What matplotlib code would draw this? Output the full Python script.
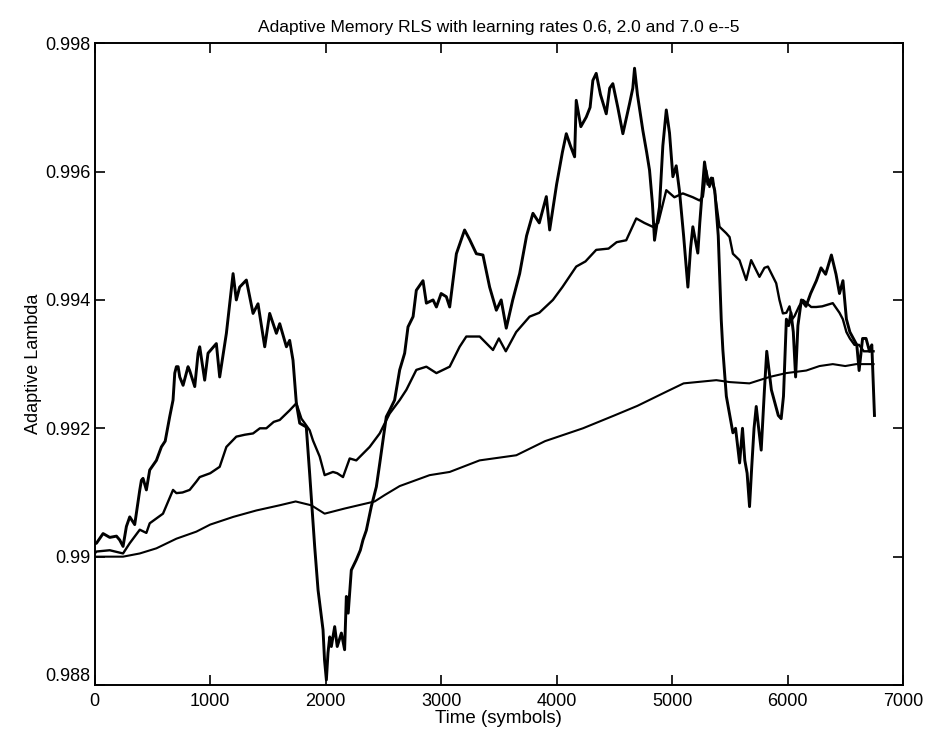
import matplotlib
matplotlib.use("Agg")
import matplotlib.pyplot as plt

# ---- data ----
fast_x = [0, 15, 72, 130, 188, 216, 245, 274, 303, 346, 390, 404, 418, 447, 476, 534, 577, 610, 649, 678,
          693, 707, 722, 736, 765, 808, 822, 866, 895, 909, 952, 981, 1053, 1082, 1140, 1198, 1226, 1255,
          1313, 1371, 1414, 1472, 1515, 1573, 1602, 1660, 1688, 1717, 1746, 1775, 1832, 1861, 1905, 1934,
          1977, 1990, 2006, 2020, 2035, 2049, 2078, 2100, 2136, 2164, 2179, 2195, 2222, 2265, 2300, 2323,
          2352, 2395, 2439, 2468, 2525, 2554, 2597, 2641, 2684, 2713, 2757, 2785, 2843, 2872, 2930, 2959,
          3000, 3045, 3074, 3132, 3203, 3247, 3305, 3362, 3420, 3478, 3520, 3564, 3620, 3680, 3740, 3795,
          3850, 3911, 3940, 4000, 4050, 4084, 4120, 4156, 4170, 4210, 4257, 4290, 4314, 4343, 4380, 4430,
          4460, 4487, 4530, 4574, 4600, 4632, 4660, 4675, 4700, 4747, 4780, 4805, 4830, 4848, 4870, 4891,
          4920, 4950, 4978, 5007, 5036, 5064, 5100, 5137, 5160, 5180, 5223, 5240, 5281, 5310, 5340, 5370,
          5400, 5426, 5440, 5470, 5500, 5527, 5550, 5585, 5610, 5630, 5650, 5671, 5690, 5710, 5729, 5750,
          5772, 5800, 5820, 5840, 5860, 5890, 5920, 5945, 5965, 5990, 6010, 6030, 6050, 6070, 6090, 6120,
          6160, 6200, 6250, 6290, 6330, 6380, 6420, 6450, 6480, 6510, 6540, 6570, 6600, 6620, 6650, 6680,
          6710, 6730, 6745, 6753]
fast_y = [0.9902, 0.99021, 0.99036, 0.9903, 0.99032, 0.99026, 0.99016, 0.99047, 0.99062, 0.9905, 0.99104,
          0.99119, 0.99122, 0.99104, 0.99135, 0.9915, 0.99171, 0.9918, 0.99218, 0.99244, 0.99286, 0.99296,
          0.99296, 0.9928, 0.99267, 0.99296, 0.9929, 0.99265, 0.99317, 0.99327, 0.99275, 0.99317, 0.99332,
          0.9928, 0.99348, 0.99441, 0.994, 0.9942, 0.99431, 0.99379, 0.99394, 0.99327, 0.99379, 0.99348,
          0.99363, 0.99327, 0.99337, 0.99306, 0.99239, 0.99208, 0.99202, 0.9913, 0.99015, 0.98948, 0.98886,
          0.98839, 0.98808, 0.9885, 0.98875, 0.9886, 0.98891, 0.9886, 0.98881, 0.98855, 0.98938, 0.98912,
          0.98979, 0.98995, 0.9901, 0.99026, 0.99041, 0.99078, 0.99109, 0.99145, 0.99218, 0.99228, 0.99244,
          0.99291, 0.99317, 0.99358, 0.99374, 0.99415, 0.9943, 0.99395, 0.994, 0.99389, 0.9941, 0.99405,
          0.99389, 0.99472, 0.99509, 0.99494, 0.99472, 0.9947, 0.9942, 0.99384, 0.994, 0.99356, 0.994,
          0.99441, 0.995, 0.99535, 0.9952, 0.99561, 0.99509, 0.9958, 0.9963, 0.99659, 0.9964, 0.99623,
          0.99711, 0.9967, 0.99685, 0.997, 0.99742, 0.99753, 0.9972, 0.9969, 0.9973, 0.99737, 0.997, 0.99659,
          0.9968, 0.99706, 0.9973, 0.99761, 0.9972, 0.99664, 0.9963, 0.99602, 0.9955, 0.99493, 0.9952,
          0.99545, 0.9964, 0.99696, 0.9966, 0.99592, 0.99609, 0.9957, 0.995, 0.9942, 0.9948, 0.99514,
          0.99473, 0.9952, 0.99615, 0.9958, 0.9959, 0.9957, 0.995, 0.99369, 0.99322, 0.9925, 0.9922, 0.99193,
          0.992, 0.99146, 0.992, 0.9915, 0.9913, 0.99078, 0.9914, 0.992, 0.99234, 0.992, 0.99166, 0.9926,
          0.9932, 0.9929, 0.9926, 0.9924, 0.9922, 0.99215, 0.9925, 0.9937, 0.9936, 0.9938, 0.9935, 0.9928,
          0.9936, 0.994, 0.9939, 0.9941, 0.9943, 0.9945, 0.9944, 0.9947, 0.9944, 0.9941, 0.9943, 0.9937,
          0.9935, 0.9934, 0.9933, 0.9929, 0.9934, 0.9934, 0.9932, 0.9933, 0.9926, 0.9922]

medium_x = [0, 15, 130, 245, 303, 390, 447, 476, 591, 678, 707, 760, 822, 880, 909, 1000, 1082, 1140, 1226,
            1300, 1371, 1430, 1486, 1550, 1602, 1688, 1746, 1790, 1818, 1861, 1890, 1948, 1991, 2063, 2100,
            2150, 2208, 2265, 2381, 2468, 2554, 2641, 2699, 2785, 2872, 2959, 3074, 3160, 3218, 3334, 3449,
            3500, 3560, 3650, 3766, 3850, 3968, 4050, 4170, 4250, 4343, 4450, 4520, 4603, 4690, 4760, 4832,
            4880, 4950, 5020, 5093, 5180, 5238, 5267, 5296, 5324, 5353, 5411, 5469, 5498, 5527, 5584, 5642,
            5685, 5757, 5800, 5830, 5902, 5930, 5960, 5990, 6017, 6040, 6061, 6100, 6133, 6205, 6248, 6300,
            6392, 6450, 6479, 6510, 6540, 6580, 6620, 6660, 6700, 6745]
medium_y = [0.99005, 0.99008, 0.9901, 0.99005, 0.99021, 0.99042, 0.99037, 0.99052, 0.99067, 0.99104,
            0.99099, 0.991, 0.99104, 0.99117, 0.99124, 0.9913, 0.9914, 0.99171, 0.99187, 0.9919, 0.99192,
            0.992, 0.992, 0.9921, 0.99213, 0.99228, 0.99239, 0.99215, 0.99208, 0.99197, 0.99181, 0.99156,
            0.99127, 0.99132, 0.9913, 0.99124, 0.99153, 0.9915, 0.99171, 0.99192, 0.99223, 0.99244, 0.9926,
            0.99291, 0.99296, 0.99286, 0.99296, 0.99327, 0.99343, 0.99343, 0.99322, 0.9934, 0.9932, 0.9935,
            0.99374, 0.9938, 0.994, 0.9942, 0.99452, 0.9946, 0.99478, 0.9948, 0.9949, 0.99493, 0.99527,
            0.9952, 0.99514, 0.9952, 0.99571, 0.9956, 0.99566, 0.9956, 0.99555, 0.99561, 0.99602, 0.99576,
            0.9959, 0.99514, 0.99504, 0.99498, 0.99472, 0.99462, 0.99431, 0.99462, 0.99436, 0.9945, 0.99452,
            0.99426, 0.994, 0.99379, 0.9938, 0.9939, 0.9937, 0.99375, 0.9939, 0.994, 0.99389, 0.99389,
            0.9939, 0.99395, 0.9938, 0.9937, 0.9935, 0.9934, 0.9933, 0.9933, 0.9932, 0.9932, 0.9932]

slow_x = [0, 15, 245, 390, 534, 707, 880, 1000, 1200, 1400, 1600, 1740, 1876, 1991, 2164, 2424, 2511, 2641,
          2900, 3074, 3333, 3651, 3900, 4228, 4500, 4700, 4950, 5100, 5383, 5500, 5670, 5844, 5988, 6162,
          6277, 6392, 6500, 6595, 6745]
slow_y = [0.99, 0.99, 0.99, 0.99005, 0.99013, 0.99028, 0.99039, 0.9905, 0.99062, 0.99072, 0.9908, 0.99086,
          0.9908, 0.99067, 0.99075, 0.99086, 0.99096, 0.9911, 0.99127, 0.99132, 0.9915, 0.99158, 0.9918,
          0.992, 0.9922, 0.99235, 0.99257, 0.9927, 0.99275, 0.99272, 0.9927, 0.9928, 0.99286, 0.9929,
          0.99297, 0.993, 0.99297, 0.993, 0.993]

x_ticks = [0, 1000, 2000, 3000, 4000, 5000, 6000, 7000]
y_ticks = [0.988, 0.99, 0.992, 0.994, 0.996, 0.998]
y_tick_labels = ["0.988", "0.99", "0.992", "0.994", "0.996", "0.998"]

title = "Adaptive Memory RLS with learning rates 0.6, 2.0 and 7.0 e--5"
xlabel = "Time (symbols)"
ylabel = "Adaptive Lambda"

# ---- plot ----
plt.rcParams['font.family'] = ['Liberation Sans', 'DejaVu Sans']
fig = plt.figure(figsize=(9.29, 7.45), dpi=100)
ax = fig.add_axes([0.102, 0.0805, 0.870, 0.8615])

ax.plot(slow_x, slow_y, color='black', linewidth=1.5)
ax.plot(medium_x, medium_y, color='black', linewidth=1.7)
ax.plot(fast_x, fast_y, color='black', linewidth=2.1)

ax.set_xlim(0, 7000)
ax.set_ylim(0.988, 0.998)
ax.set_xticks(x_ticks)
ax.set_xticklabels([str(t) for t in x_ticks])
ax.set_yticks(y_ticks)
ax.set_yticklabels(y_tick_labels)
ax.tick_params(direction='in', top=True, right=True, length=7, width=1.2, labelsize=13)
ax.tick_params(axis='x', pad=6)
ax.tick_params(axis='y', pad=3)
# lift the bottom y label slightly, as in the reference
ax.get_yticklabels()[0].set_verticalalignment('bottom')
for s in ax.spines.values():
    s.set_linewidth(1.4)

ax.set_title(title, fontsize=12.5, pad=8)
ax.set_xlabel(xlabel, fontsize=13.5, labelpad=0)
ax.set_ylabel(ylabel, fontsize=13, labelpad=2)

fig.savefig("out.png", dpi=100)
